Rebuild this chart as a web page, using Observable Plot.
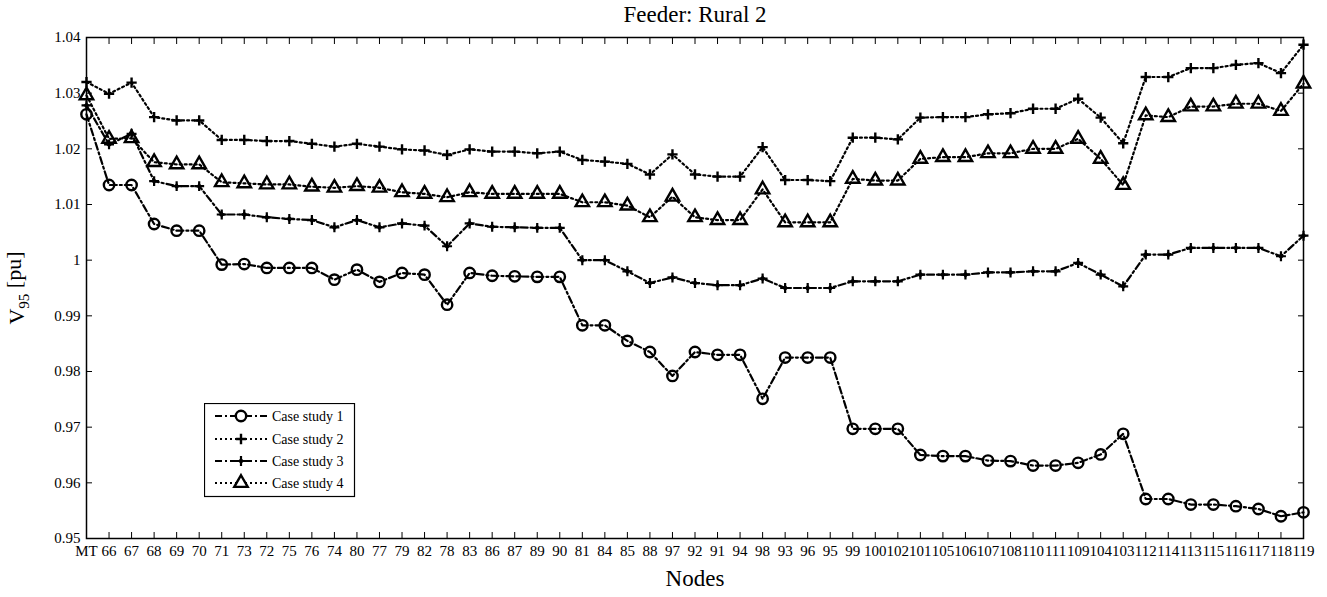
<!DOCTYPE html>
<html><head><meta charset="utf-8">
<script src="https://cdn.jsdelivr.net/npm/d3@7"></script>
<script src="https://cdn.jsdelivr.net/npm/@observablehq/plot@0.6"></script>
<style>
body{margin:0;background:#fff;}
#wrap{position:relative;width:1327px;height:597px;}
#wrap svg, #wrap svg text, #wrap svg tspan{font-family:"Liberation Serif","DejaVu Serif",serif !important;}
#legend{position:absolute;left:204px;top:403px;}
</style></head><body><div id="wrap"></div>
<script>
const nodes = ["MT","66","67","68","69","70","71","73","72","75","76","74","80","77","79","82","78","83","86","87","89","90","81","84","85","88","97","92","91","94","98","93","96","95","99","100","102","101","105","106","107","108","110","111","109","104","103","112","114","113","115","116","117","118","119"];
const case1 = [1.0262,1.0135,1.0135,1.0065,1.0053,1.0053,0.9992,0.9993,0.9986,0.9986,0.9986,0.9965,0.9983,0.9961,0.9977,0.9974,0.9920,0.9977,0.9972,0.9971,0.9970,0.9970,0.9883,0.9883,0.9855,0.9835,0.9792,0.9835,0.9830,0.9830,0.9751,0.9825,0.9825,0.9825,0.9697,0.9697,0.9697,0.9650,0.9648,0.9648,0.9640,0.9639,0.9631,0.9631,0.9636,0.9651,0.9688,0.9571,0.9571,0.9561,0.9561,0.9558,0.9553,0.9540,0.9547];
const case2 = [1.0320,1.0299,1.0319,1.0257,1.0251,1.0251,1.0216,1.0216,1.0214,1.0214,1.0209,1.0204,1.0209,1.0204,1.0199,1.0197,1.0189,1.0199,1.0195,1.0195,1.0192,1.0195,1.0180,1.0177,1.0173,1.0154,1.0190,1.0154,1.0150,1.0150,1.0203,1.0144,1.0144,1.0142,1.0220,1.0220,1.0217,1.0256,1.0257,1.0257,1.0262,1.0264,1.0272,1.0272,1.0290,1.0256,1.0210,1.0329,1.0329,1.0345,1.0345,1.0351,1.0354,1.0336,1.0387];
const case3 = [1.0278,1.0208,1.0227,1.0142,1.0133,1.0133,1.0082,1.0082,1.0077,1.0074,1.0072,1.0059,1.0072,1.0059,1.0066,1.0062,1.0025,1.0066,1.0060,1.0059,1.0058,1.0058,1.0000,1.0000,0.9980,0.9959,0.9969,0.9959,0.9955,0.9955,0.9967,0.9950,0.9950,0.9950,0.9962,0.9962,0.9962,0.9974,0.9974,0.9974,0.9978,0.9978,0.9980,0.9980,0.9995,0.9974,0.9953,1.0010,1.0010,1.0022,1.0022,1.0022,1.0022,1.0007,1.0044];
const case4 = [1.0296,1.0218,1.0219,1.0176,1.0172,1.0172,1.0140,1.0138,1.0136,1.0136,1.0132,1.0130,1.0133,1.0130,1.0122,1.0119,1.0113,1.0122,1.0119,1.0119,1.0119,1.0119,1.0104,1.0104,1.0098,1.0077,1.0114,1.0077,1.0072,1.0072,1.0127,1.0068,1.0068,1.0068,1.0146,1.0143,1.0143,1.0182,1.0185,1.0185,1.0192,1.0192,1.0200,1.0200,1.0218,1.0182,1.0135,1.0260,1.0257,1.0276,1.0276,1.0281,1.0281,1.0268,1.0317];
const seriesNames = ["Case study 1","Case study 2","Case study 3","Case study 4"];
const yTicks = [0.95,0.96,0.97,0.98,0.99,1.00,1.01,1.02,1.03,1.04];
const titleText = "Feeder: Rural 2";
const xLabel = "Nodes";

const xIdx = nodes.map((_, i) => i);
const rows = s => s.map((v, j) => ({i: j, v}));
const d1 = rows(case1), d2 = rows(case2), d3s = rows(case3), d4 = rows(case4);
const DASHDOT = "7,3,2,3", DOT = "2,3";
const fmt = d => String(+d.toFixed(2));
const nodeFmt = i => nodes[i];
const SERIF = "Liberation Serif";

const chart = Plot.plot({
  width: 1327, height: 597,
  marginLeft: 86, marginRight: 24, marginTop: 37, marginBottom: 59,
  style: {fontFamily: SERIF, fontSize: "15px", color: "#000", background: "#fff"},
  x: {domain: [0, nodes.length - 1]},
  y: {domain: [0.95, 1.04]},
  marks: [
    Plot.axisX({anchor: "bottom", ticks: xIdx, tickFormat: nodeFmt, tickSize: 0, tickPadding: 7, label: null, fontSize: 15}),
    Plot.axisX({anchor: "bottom", ticks: xIdx, tickSize: -6, tickFormat: () => "", label: null}),
    Plot.axisX({anchor: "top", ticks: xIdx, tickSize: -6, tickFormat: () => "", label: null}),
    Plot.axisY({anchor: "left", ticks: yTicks, tickSize: 0, tickPadding: 6, tickFormat: fmt, label: null, fontSize: 15}),
    Plot.axisY({anchor: "left", ticks: yTicks, tickSize: -6, tickFormat: () => "", label: null}),
    Plot.axisY({anchor: "right", ticks: yTicks, tickSize: -6, tickFormat: () => "", label: null}),
    Plot.frame({stroke: "#000", strokeWidth: 1.5}),
    Plot.line(d1, {x: "i", y: "v", stroke: "#000", strokeWidth: 2.2, strokeDasharray: DASHDOT}),
    Plot.line(d2, {x: "i", y: "v", stroke: "#000", strokeWidth: 2.2, strokeDasharray: DOT}),
    Plot.line(d3s, {x: "i", y: "v", stroke: "#000", strokeWidth: 2.2, strokeDasharray: DASHDOT}),
    Plot.line(d4, {x: "i", y: "v", stroke: "#000", strokeWidth: 2.2, strokeDasharray: DOT}),
    Plot.dot(d1, {x: "i", y: "v", symbol: "circle", r: 5.2, stroke: "#000", strokeWidth: 2.4, fill: "none"}),
    Plot.dot(d2, {x: "i", y: "v", symbol: "plus", r: 3.4, stroke: "#000", strokeWidth: 2.4}),
    Plot.dot(d3s, {x: "i", y: "v", symbol: "plus", r: 3.3, stroke: "#000", strokeWidth: 2.2}),
    Plot.dot(d3s, {x: "i", y: "v", symbol: "diamond", r: 2.3, fill: "#000"}),
    Plot.dot(d3s, {x: "i", y: "v", symbol: "diamond", r: 2.3, rotate: 90, fill: "#000"}),
    Plot.dot(d4, {x: "i", y: "v", symbol: "triangle2", r: 6.4, stroke: "#000", strokeWidth: 2.4, fill: "none"}),
    Plot.text([titleText], {frameAnchor: "top", dy: -23, lineAnchor: "middle", fontSize: 23, fill: "#000"}),
    Plot.text([xLabel], {frameAnchor: "bottom", dy: 40, lineAnchor: "middle", fontSize: 23, fill: "#000"}),
    Plot.text(["V95 [pu]"], {frameAnchor: "left", dx: -70, rotate: -90, textAnchor: "middle", lineAnchor: "middle", fontSize: 22, fill: "#000"})
  ]
});

// subscript in y label
d3.select(chart).selectAll("text").filter(function(){ return this.textContent === "V95 [pu]"; }).each(function(){
  const t = d3.select(this);
  t.text(null);
  t.append("tspan").text("V");
  t.append("tspan").attr("font-size", "15px").attr("dy", "0.35em").text("95");
  t.append("tspan").attr("dy", "-0.35em").text(" [pu]");
});

const wrap = document.getElementById("wrap");
wrap.appendChild(chart);

// legend
const lg = d3.select(wrap).append("svg").attr("id", "legend").attr("width", 152).attr("height", 95);
lg.append("rect").attr("x", 0.5).attr("y", 0.5).attr("width", 150).attr("height", 93).attr("fill", "#fff").attr("stroke", "#000").attr("stroke-width", 1.2);
const styles = [
  {dash: DASHDOT, sym: "circle"},
  {dash: DOT, sym: "plus"},
  {dash: DASHDOT, sym: "star4"},
  {dash: DOT, sym: "tri"}
];
const rowY = [13, 36, 58, 80];
const sz = r => Math.PI * r * r;
styles.forEach((s, i) => {
  const g = lg.append("g").attr("transform", `translate(0,${rowY[i]})`);
  g.append("line").attr("x1", 11).attr("x2", 63).attr("y1", 0).attr("y2", 0).attr("stroke", "#000").attr("stroke-width", 2.2).attr("stroke-dasharray", s.dash);
  const c = g.append("g").attr("transform", "translate(37,0)");
  if (s.sym === "circle") c.append("circle").attr("r", 5.2).attr("fill", "#fff").attr("stroke", "#000").attr("stroke-width", 2.4);
  if (s.sym === "plus") c.append("path").attr("d", d3.symbol(d3.symbolPlus, sz(3.4))()).attr("stroke", "#000").attr("stroke-width", 2.4).attr("fill", "none");
  if (s.sym === "star4") {
    c.append("path").attr("d", d3.symbol(d3.symbolPlus, sz(3.3))()).attr("stroke", "#000").attr("stroke-width", 2.2).attr("fill", "none");
    c.append("path").attr("d", d3.symbol(d3.symbolDiamond, sz(2.3))()).attr("fill", "#000");
    c.append("path").attr("d", d3.symbol(d3.symbolDiamond, sz(2.3))()).attr("transform", "rotate(90)").attr("fill", "#000");
  }
  if (s.sym === "tri") c.append("path").attr("d", d3.symbol(d3.symbolTriangle2, sz(6.4))()).attr("stroke", "#000").attr("stroke-width", 2.4).attr("fill", "#fff");
  g.append("text").attr("x", 68).attr("y", 0).attr("dy", "0.35em").attr("font-size", 14).text(seriesNames[i]);
});
</script></body></html>
